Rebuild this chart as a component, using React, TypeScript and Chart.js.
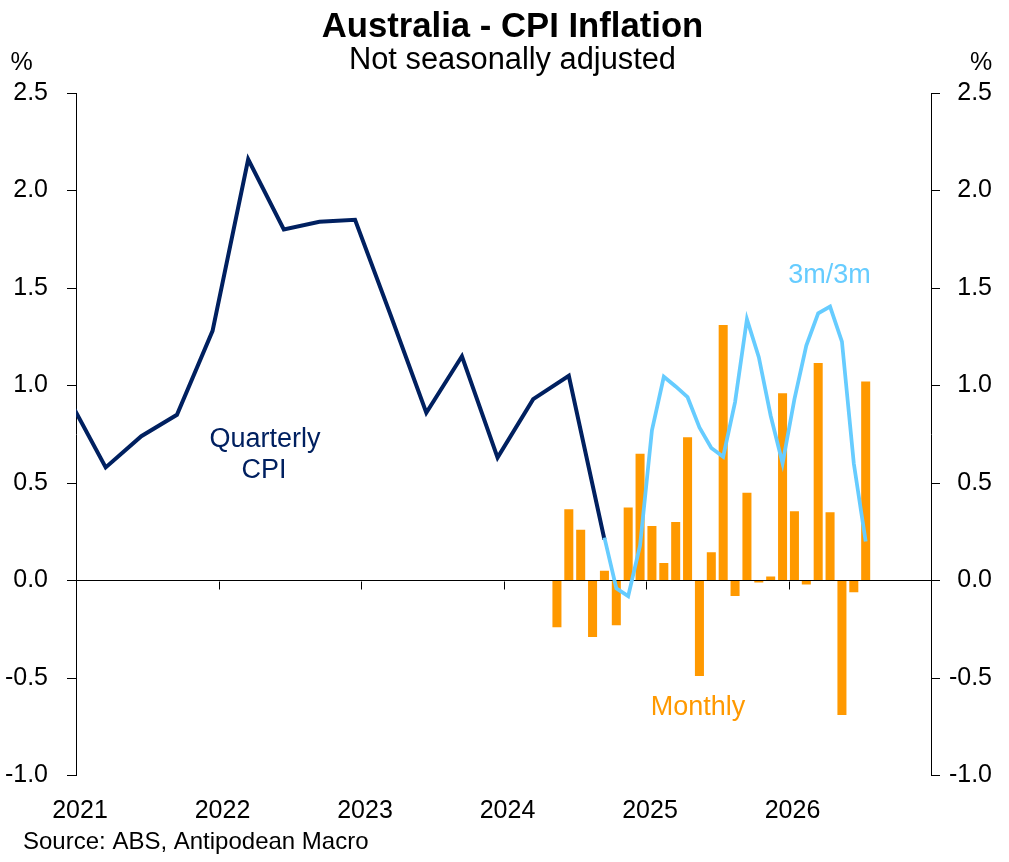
import React, { useEffect, useRef } from "react";
import { Chart, registerables } from "chart.js";

Chart.register(...registerables);

const FONT = '"Liberation Sans", Arial, Helvetica, sans-serif';
const NAVY = "#002060";
const ORANGE = "#FF9900";
const LIGHT_BLUE = "#66CCFF";

// ---- Data ----
const QUARTERS = [
  "2020-12", "2021-03", "2021-06", "2021-09", "2021-12",
  "2022-03", "2022-06", "2022-09", "2022-12",
  "2023-03", "2023-06", "2023-09", "2023-12",
  "2024-03", "2024-06", "2024-09",
];
const QUARTERLY_CPI = [
  0.92, 0.58, 0.74, 0.85, 1.28,
  2.16, 1.80, 1.84, 1.85,
  1.36, 0.86, 1.15, 0.63,
  0.93, 1.05, 0.21,
];

const MONTHS = [
  "2024-05", "2024-06", "2024-07", "2024-08", "2024-09", "2024-10", "2024-11", "2024-12",
  "2025-01", "2025-02", "2025-03", "2025-04", "2025-05", "2025-06", "2025-07", "2025-08",
  "2025-09", "2025-10", "2025-11", "2025-12",
  "2026-01", "2026-02", "2026-03", "2026-04", "2026-05", "2026-06", "2026-07",
];
const MONTHLY_CPI = [
  -0.24, 0.365, 0.26, -0.29, 0.05, -0.23, 0.375, 0.65,
  0.28, 0.09, 0.30, 0.735, -0.49, 0.145, 1.31, -0.08,
  0.45, -0.01, 0.02, 0.96,
  0.355, -0.02, 1.115, 0.35, -0.69, -0.06, 1.02,
];

const M3_MONTHS = [
  "2024-09", "2024-10", "2024-11", "2024-12",
  "2025-01", "2025-02", "2025-03", "2025-04", "2025-05", "2025-06", "2025-07", "2025-08",
  "2025-09", "2025-10", "2025-11", "2025-12",
  "2026-01", "2026-02", "2026-03", "2026-04", "2026-05", "2026-06", "2026-07",
];
const M3_CPI = [
  0.22, -0.04, -0.08, 0.18,
  0.77, 1.045, 0.995, 0.94, 0.785, 0.68, 0.635, 0.915,
  1.34, 1.145, 0.845, 0.60,
  0.93, 1.205, 1.37, 1.405, 1.225, 0.60, 0.20,
];

const YEAR_LABELS = ["2021", "2022", "2023", "2024", "2025", "2026"];
const AXIS_START = "2021-01";
const AXIS_END = "2027-01";
const Y_MIN = -1.0;
const Y_MAX = 2.5;
const Y_STEP = 0.5;

// month index where "2020-12" = 0
function monthPos(s: string): number {
  const [yy, mm] = s.split("-").map(Number);
  return (yy - 2020) * 12 + (mm - 12);
}
// year boundaries sit half a month before January's point
function yearPos(yr: string): number {
  return monthPos(`${yr}-01`) - 0.5;
}

const overlayPlugin = {
  id: "overlay",
  afterDatasetsDraw(chart: any) {
    const { ctx, scales } = chart;
    const x = scales.x;
    const y = scales.y;
    const y0 = Math.round(y.getPixelForValue(0)) + 0.5;
    ctx.save();
    ctx.strokeStyle = "#000";
    ctx.lineWidth = 1;
    YEAR_LABELS.forEach((yr) => {
      const px = Math.round(x.getPixelForValue(yearPos(yr))) + 0.5;
      ctx.beginPath();
      ctx.moveTo(px, y0);
      ctx.lineTo(px, y0 + 8);
      ctx.stroke();
    });
    ctx.restore();
  },
  afterDraw(chart: any) {
    const { ctx } = chart;
    ctx.save();
    ctx.textBaseline = "alphabetic";
    const txt = (s: string, x: number, y: number, size: number, color: string, align: CanvasTextAlign = "center", bold = false) => {
      ctx.font = `${bold ? "bold " : ""}${size}px ${FONT}`;
      ctx.fillStyle = color;
      ctx.textAlign = align;
      ctx.fillText(s, x, y);
    };
    txt("Australia - CPI Inflation", 512.5, 37, 34.7, "#000", "center", true);
    txt("Not seasonally adjusted", 512.5, 68.5, 30.8, "#000");
    txt("%", 21.5, 70, 25, "#000");
    txt("%", 981, 70, 25, "#000");
    txt("Quarterly", 265, 447, 27, NAVY);
    txt("CPI", 264, 478, 27, NAVY);
    txt("Monthly", 698, 715, 27, ORANGE);
    txt("3m/3m", 829.5, 283, 27, LIGHT_BLUE);
    txt("Source: ABS, Antipodean Macro", 23, 849, 24, "#000", "left");
    ctx.restore();
  },
};

const tickLabel = (v: any) => Number(v).toFixed(1);

export default function App() {
  const canvasRef = useRef<HTMLCanvasElement | null>(null);

  useEffect(() => {
    const canvas = canvasRef.current;
    if (!canvas) return;
    Chart.defaults.font.family = FONT;
    Chart.defaults.color = "#000";

    const chart = new Chart(canvas, {
      type: "line",
      data: {
        datasets: [
          {
            type: "line",
            label: "3m/3m",
            data: M3_MONTHS.map((m, i) => ({ x: monthPos(m), y: M3_CPI[i] })),
            borderColor: LIGHT_BLUE,
            backgroundColor: LIGHT_BLUE,
            borderWidth: 3.75,
            pointRadius: 0,
            tension: 0,
            clip: 0,
            order: 0,
          },
          {
            type: "line",
            label: "Quarterly CPI",
            data: QUARTERS.map((q, i) => ({ x: monthPos(q), y: QUARTERLY_CPI[i] })),
            borderColor: NAVY,
            backgroundColor: NAVY,
            borderWidth: 4,
            pointRadius: 0,
            tension: 0,
            clip: 0,
            order: 1,
          },
          {
            type: "bar",
            label: "Monthly",
            data: MONTHS.map((m, i) => ({ x: monthPos(m), y: MONTHLY_CPI[i] })),
            backgroundColor: ORANGE,
            borderWidth: 0,
            barPercentage: 0.76,
            categoryPercentage: 1,
            order: 2,
          } as any,
        ],
      },
      options: {
        animation: false,
        responsive: false,
        devicePixelRatio: 1,
        layout: { padding: { top: 93, right: 17, bottom: 0, left: 0 } },
        plugins: {
          legend: { display: false },
          title: { display: false },
          tooltip: { enabled: false },
        },
        scales: {
          x: {
            type: "linear",
            position: "bottom",
            min: monthPos(AXIS_START) - 0.5,
            max: monthPos(AXIS_END) - 0.5,
            offset: false,
            grid: { display: false, drawTicks: false },
            border: { display: false },
            afterBuildTicks: (scale: any) => {
              scale.ticks = YEAR_LABELS.map((yr) => ({ value: yearPos(yr) }));
            },
            afterFit: (scale: any) => {
              scale.height = 86.5;
            },
            ticks: {
              autoSkip: false,
              maxRotation: 0,
              minRotation: 0,
              padding: 21,
              labelOffset: 4,
              font: { size: 25 },
              color: "#000",
              callback: (_v: any, i: number) => YEAR_LABELS[i],
            },
          },
          y: {
            type: "linear",
            position: "left",
            min: Y_MIN,
            max: Y_MAX,
            afterFit: (scale: any) => {
              scale.width = 76;
            },
            grid: {
              drawOnChartArea: true,
              drawTicks: true,
              tickLength: 9,
              tickColor: "#000",
              color: (ctx: any) => (ctx.tick && ctx.tick.value === 0 ? "#000" : "rgba(0,0,0,0)"),
              lineWidth: 1,
            },
            border: { display: true, color: "#000", width: 1 },
            ticks: {
              stepSize: Y_STEP,
              padding: 19,
              font: { size: 25 },
              color: "#000",
              callback: tickLabel,
            },
          },
          y2: {
            type: "linear",
            position: "right",
            min: Y_MIN,
            max: Y_MAX,
            afterFit: (scale: any) => {
              scale.width = 61;
            },
            grid: {
              drawOnChartArea: false,
              drawTicks: true,
              tickLength: 9,
              tickColor: "#000",
              color: "#000",
            },
            border: { display: true, color: "#000", width: 1 },
            ticks: {
              stepSize: Y_STEP,
              padding: 14,
              crossAlign: "far",
              font: { size: 25 },
              color: "#000",
              callback: tickLabel,
            },
          },
        },
      } as any,
      plugins: [overlayPlugin],
    });

    return () => {
      chart.destroy();
    };
  }, []);

  return (
    <div
      style={{
        position: "fixed",
        left: 0,
        top: 0,
        width: 1009,
        height: 862,
        background: "#fff",
      }}
    >
      <canvas
        ref={canvasRef}
        width={1009}
        height={862}
        style={{ width: 1009, height: 862, display: "block" }}
      />
    </div>
  );
}
